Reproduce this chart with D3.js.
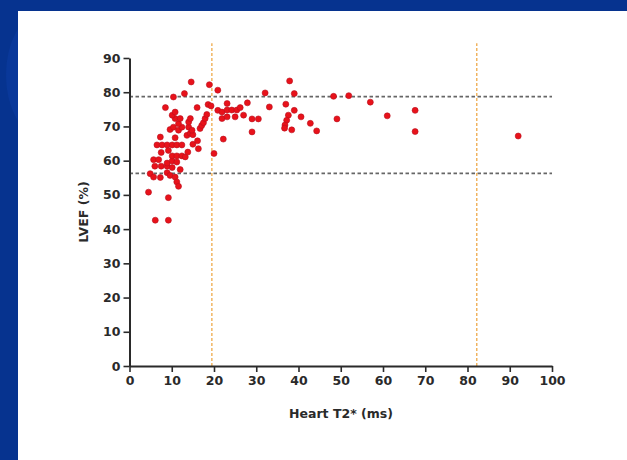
<!DOCTYPE html>
<html>
<head>
<meta charset="utf-8">
<script src="https://cdn.jsdelivr.net/npm/d3@7"></script>
<style>
  html, body { margin: 0; padding: 0; background: #06338f; }
  svg { display: block; }
</style>
</head>
<body>
<div class="chart"></div>
<script>
// heart T2* (ms) vs LVEF (%)
const t2 = [
  4.5, 6.1, 9.2, 9.2,
  4.9, 5.7, 7.3, 8.9, 9.6, 10.8, 11.2, 11.6,
  6.0, 7.5, 8.9, 10.1, 12.0,
  5.7, 6.9, 8.9, 10.1, 11.2,
  10.1, 11.2, 12.4, 13.2,
  7.5, 9.2, 13.8,
  6.5, 7.7, 8.9, 10.1, 11.2, 12.4,
  15.0, 16.1, 16.3,
  7.3, 10.8, 13.6, 14.4, 15.0,
  9.6, 10.4, 11.6, 12.4, 14.0, 14.8, 16.7,
  11.6, 14.0, 17.1, 17.5,
  10.8, 12.0, 14.4, 17.9,
  10.1, 18.3, 10.8, 8.5, 16.0,
  18.6, 19.3,
  20.9, 21.9, 23.1, 23.1, 24.2, 25.4, 26.2, 21.9, 23.1, 25.0, 27.0, 27.9,
  29.0, 30.5, 29.0, 22.2, 20.0,
  33.1, 32.1,
  37.0, 39.0, 37.6, 37.2, 36.8, 36.7, 38.4, 40.6, 42.8, 44.3,
  37.9, 39.0, 48.3, 49.1, 51.9, 57.0, 61.0, 67.6, 67.6, 92.0,
  14.6, 18.9, 20.9, 10.4, 13.0
];
const lvef = [
  50.8, 42.6, 42.6, 49.2,
  56.2, 55.2, 55.1, 56.5, 55.7, 55.2, 53.8, 52.5,
  58.4, 58.4, 58.4, 58.0, 57.4,
  60.3, 60.3, 59.3, 59.9, 59.6,
  61.4, 61.4, 61.4, 61.1,
  62.4, 63.0, 62.5,
  64.6, 64.6, 64.6, 64.6, 64.6, 64.6,
  64.8, 65.8, 63.5,
  66.9, 66.7, 67.4, 68.0, 67.6,
  69.1, 69.8, 68.9, 69.8, 69.8, 68.9, 69.4,
  70.8, 71.3, 70.3, 71.1,
  72.3, 72.3, 72.3, 72.3,
  73.3, 73.5, 74.2, 75.5, 75.5,
  76.4, 76.0,
  74.7, 74.2, 76.7, 74.8, 74.8, 74.8, 75.5, 72.3, 72.8, 72.8, 73.3, 76.9,
  72.2, 72.2, 68.4, 66.3, 62.1,
  75.7, 79.8,
  76.5, 74.7, 73.3, 71.8, 70.4, 69.5, 69.0, 72.8, 70.9, 68.7,
  83.3, 79.6, 78.8, 72.2, 79.0, 77.1, 73.1, 74.7, 68.5, 67.2,
  83.0, 82.2, 80.6, 78.6, 79.6
];

const xTicks = [0, 10, 20, 30, 40, 50, 60, 70, 80, 90, 100];
const yTicks = [0, 10, 20, 30, 40, 50, 60, 70, 80, 90];

// normal LVEF range (grey) and T2* cut-offs (orange)
const lvefRefs = [56.3, 78.7];
const t2Refs = [19.5, 82.2];

const W = 627, H = 460;
const fontFam = '"DejaVu Sans", Verdana, sans-serif';

const svg = d3.select('div.chart')
  .append('svg')
  .attr('width', W)
  .attr('height', H);

// slide background: blue frame with a lighter swoosh on the left, white panel
const bg = svg.append('g').attr('class', 'slide');
bg.append('rect').attr('width', W).attr('height', H).attr('fill', '#06338f');
bg.append('ellipse')
  .attr('cx', 40).attr('cy', 75).attr('rx', 34).attr('ry', 60)
  .attr('fill', '#0b3b9e').attr('opacity', 0.7);
bg.append('rect')
  .attr('x', 18).attr('y', 11)
  .attr('width', W - 18).attr('height', H - 11)
  .attr('fill', '#ffffff');

const x = d3.scaleLinear().domain([0, 100]).range([129.5, 552]);
const y = d3.scaleLinear().domain([0, 90]).range([366, 58]);

const plot = svg.append('g').attr('class', 'plot');

// reference lines
plot.selectAll('line.lvef-ref')
  .data(lvefRefs)
  .enter().append('line')
    .attr('class', 'lvef-ref')
    .attr('x1', x(0)).attr('x2', x(100))
    .attr('y1', d => y(d)).attr('y2', d => y(d))
    .attr('stroke', '#666')
    .attr('stroke-width', 1.6)
    .attr('stroke-dasharray', '3.5,2.5');

plot.selectAll('line.t2-ref')
  .data(t2Refs)
  .enter().append('line')
    .attr('class', 't2-ref')
    .attr('x1', d => x(d)).attr('x2', d => x(d))
    .attr('y1', y(0)).attr('y2', y(94.3))
    .attr('stroke', '#eda23a')
    .attr('stroke-width', 1.2)
    .attr('stroke-dasharray', '3,2');

// axes
const xAxis = d3.axisBottom(x).tickValues(xTicks).tickSize(6).tickSizeOuter(0).tickPadding(4);
const yAxis = d3.axisLeft(y).tickValues(yTicks).tickSize(6).tickSizeOuter(0).tickPadding(3);

const gx = plot.append('g')
  .attr('transform', `translate(0,${y(0)})`)
  .call(xAxis);
const gy = plot.append('g')
  .attr('transform', `translate(${x(0)},0)`)
  .call(yAxis);

[gx, gy].forEach(g => {
  g.select('.domain').attr('stroke', '#2a2a2a').attr('stroke-width', 2);
  g.selectAll('.tick line').attr('stroke', '#2a2a2a').attr('stroke-width', 1.6);
  g.selectAll('.tick text')
    .attr('fill', '#2a2a2a')
    .style('font-family', fontFam)
    .style('font-weight', 'bold')
    .style('font-size', '12.5px');
});

// points
plot.append('g')
  .attr('class', 'points')
  .selectAll('circle')
  .data(d3.zip(t2, lvef))
  .enter().append('circle')
    .attr('cx', d => x(d[0]))
    .attr('cy', d => y(d[1]))
    .attr('r', 3)
    .attr('fill', '#e8121a')
    .attr('stroke', '#b80f1e')
    .attr('stroke-width', 0.6);

// axis titles
svg.append('text')
  .attr('x', 341).attr('y', 414)
  .attr('text-anchor', 'middle')
  .attr('dominant-baseline', 'middle')
  .attr('fill', '#2a2a2a')
  .style('font-family', fontFam)
  .style('font-weight', 'bold')
  .style('font-size', '12.5px')
  .text('Heart T2* (ms)');

svg.append('text')
  .attr('transform', `translate(84,${(y(0) + y(90)) / 2}) rotate(-90)`)
  .attr('text-anchor', 'middle')
  .attr('dominant-baseline', 'middle')
  .attr('fill', '#2a2a2a')
  .style('font-family', fontFam)
  .style('font-weight', 'bold')
  .style('font-size', '12.5px')
  .text('LVEF (%)');
</script>
</body>
</html>
